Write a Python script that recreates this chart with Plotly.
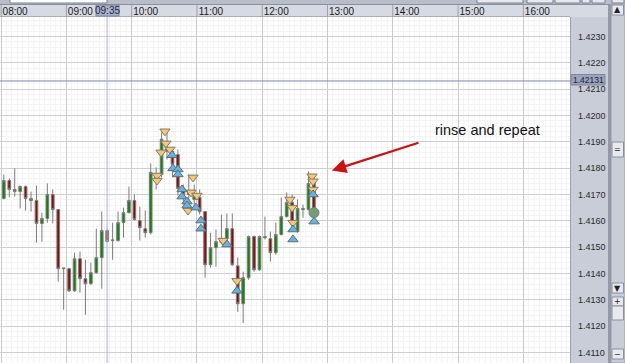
import plotly.graph_objects as go
import pandas as pd

DAY = "2010-01-04 "

# 5-minute candles starting 08:00
opens = [1.41685, 1.41753, 1.41719, 1.41711, 1.41730, 1.41685, 1.41677, 1.41590, 1.41609, 1.41700,
         1.41643, 1.41418, 1.41418, 1.41334, 1.41456, 1.41380, 1.41361, 1.41403, 1.41460, 1.41563,
         1.41525, 1.41525, 1.41593, 1.41631, 1.41677, 1.41601, 1.41570, 1.41555, 1.41750, 1.41776,
         1.41875, 1.41864, 1.41852, 1.41723, 1.41708, 1.41681, 1.41689, 1.41635, 1.41433, 1.41498,
         1.41532, 1.41532, 1.41570, 1.41429, 1.41285, 1.41384, 1.41540, 1.41414, 1.41540, 1.41532,
         1.41479, 1.41548, 1.41616, 1.41670, 1.41559, 1.41647, 1.41643, 1.41750]
highs = [1.41776, 1.41761, 1.41799, 1.41734, 1.41734, 1.41711, 1.41734, 1.41631, 1.41742, 1.41719,
         1.41643, 1.41422, 1.41422, 1.41479, 1.41483, 1.41452, 1.41441, 1.41570, 1.41635, 1.41570,
         1.41593, 1.41635, 1.41650, 1.41730, 1.41700, 1.41654, 1.41639, 1.41818, 1.41803, 1.41936,
         1.41936, 1.41879, 1.41871, 1.41738, 1.41776, 1.41738, 1.41719, 1.41635, 1.41555, 1.41567,
         1.41624, 1.41628, 1.41628, 1.41460, 1.41407, 1.41544, 1.41544, 1.41544, 1.41616, 1.41559,
         1.41593, 1.41689, 1.41708, 1.41700, 1.41681, 1.41662, 1.41788, 1.41772]
lows = [1.41681, 1.41689, 1.41692, 1.41647, 1.41639, 1.41635, 1.41517, 1.41521, 1.41593, 1.41590,
        1.41369, 1.41262, 1.41330, 1.41330, 1.41327, 1.41243, 1.41357, 1.41399, 1.41342, 1.41517,
        1.41452, 1.41521, 1.41536, 1.41628, 1.41601, 1.41525, 1.41536, 1.41548, 1.41719, 1.41765,
        1.41833, 1.41765, 1.41696, 1.41662, 1.41643, 1.41650, 1.41624, 1.41384, 1.41422, 1.41426,
        1.41510, 1.41525, 1.41429, 1.41254, 1.41212, 1.41376, 1.41407, 1.41410, 1.41529, 1.41445,
        1.41471, 1.41544, 1.41612, 1.41574, 1.41555, 1.41612, 1.41639, 1.41631]
closes = [1.41753, 1.41719, 1.41711, 1.41730, 1.41685, 1.41677, 1.41590, 1.41609, 1.41700, 1.41643,
          1.41418, 1.41420, 1.41334, 1.41456, 1.41380, 1.41361, 1.41403, 1.41460, 1.41563, 1.41521,
          1.41527, 1.41593, 1.41631, 1.41677, 1.41605, 1.41574, 1.41555, 1.41784, 1.41776, 1.41910,
          1.41864, 1.41814, 1.41723, 1.41700, 1.41700, 1.41696, 1.41635, 1.41433, 1.41498, 1.41521,
          1.41517, 1.41570, 1.41433, 1.41285, 1.41384, 1.41540, 1.41414, 1.41540, 1.41536, 1.41479,
          1.41548, 1.41616, 1.41670, 1.41586, 1.41647, 1.41643, 1.41742, 1.41635]

# signal markers
sell_times = ["10:30:36", "10:31:30", "10:27:00", "10:35:12", "10:23:18", "10:23:18", "10:56:24",
              "10:54:30", "11:00:00", "10:51:48", "11:24:00", "11:36:48", "12:25:30", "12:27:24",
              "12:28:18", "12:45:48", "12:46:42", "12:46:42"]
sell_prices = [1.41940, 1.41894, 1.41860, 1.41871, 1.41772, 1.41753, 1.41765,
               1.41708, 1.41696, 1.41639, 1.41525, 1.41372, 1.41681, 1.41650,
               1.41593, 1.41769, 1.41750, 1.41719]
buy_times = ["10:37:06", "10:38:00", "10:42:36", "10:42:36", "10:46:18", "10:46:18", "10:50:54",
             "10:50:54", "10:59:06", "11:03:42", "11:03:42", "11:27:36", "11:36:48", "12:28:18",
             "12:28:18", "12:46:42", "12:47:42"]
buy_prices = [1.41849, 1.41799, 1.41795, 1.41776, 1.41719, 1.41692, 1.41673,
              1.41658, 1.41650, 1.41601, 1.41570, 1.41510, 1.41334, 1.41567,
              1.41529, 1.41700, 1.41597]
exit_times = ["12:47:36"]
exit_prices = [1.41631]

current_price = 1.42131
cursor_time = "09:37:30"
cursor_label = "09:35"
note_text = "rinse and repeat"
arrow_tip = ("13:04:06", 1.41791)
arrow_tail = ("14:25:00", 1.41898)

x_range = [DAY + "07:58:59", DAY + "16:42:54"]
y_range = [1.41060, 1.42374]

W, H = 625, 363
ML, MR, MT, MB = 0, 55, 17, 0
PW, PH = W - ML - MR, H - MT - MB


def px_x(p):
    return (p - ML) / PW


def px_y(p):
    return 1 - (p - MT) / PH


times = pd.date_range(DAY + "08:00", periods=len(opens), freq="5min") + pd.Timedelta(seconds=150)

fig = go.Figure()
fig.add_trace(go.Candlestick(
    x=times, open=opens, high=highs, low=lows, close=closes,
    increasing=dict(fillcolor="#0b870b", line=dict(color="#7b7b7b", width=1)),
    decreasing=dict(fillcolor="#8a0b0b", line=dict(color="#7b7b7b", width=1)),
    whiskerwidth=0, showlegend=False, hoverinfo="skip"))

fig.add_trace(go.Scatter(
    x=[DAY + t for t in sell_times], y=sell_prices, mode="markers",
    marker=dict(symbol="triangle-down", size=9, color="#ffc76a",
                line=dict(color="#7a7a7a", width=1)), showlegend=False))
fig.add_trace(go.Scatter(
    x=[DAY + t for t in buy_times], y=buy_prices, mode="markers",
    marker=dict(symbol="triangle-up", size=9, color="#5cb6ea",
                line=dict(color="#6a6a6a", width=1)), showlegend=False))
fig.add_trace(go.Scatter(
    x=[DAY + t for t in exit_times], y=exit_prices, mode="markers",
    marker=dict(symbol="circle", size=10, color="#6f9f72",
                line=dict(color="#7a7a7a", width=1)), showlegend=False))

shapes = []
# current price line
shapes.append(dict(type="line", xref="paper", yref="y", x0=0, x1=1, y0=current_price,
                   y1=current_price, line=dict(color="#7b84aa", width=1), layer="above"))
# cursor line
shapes.append(dict(type="line", xref="x", yref="paper", x0=DAY + cursor_time, x1=DAY + cursor_time,
                   y0=0, y1=1, line=dict(color="#b4bcd6", width=2), opacity=0.6, layer="above"))
# header bar
shapes.append(dict(type="rect", xref="paper", yref="paper", x0=px_x(0), x1=px_x(610),
                   y0=px_y(17), y1=px_y(4), fillcolor="#d6dae3", line=dict(width=0), layer="below"))
shapes.append(dict(type="line", xref="paper", yref="paper", x0=px_x(0), x1=px_x(610),
                   y0=px_y(4.5), y1=px_y(4.5), line=dict(color="#8a90a0", width=1)))
shapes.append(dict(type="line", xref="paper", yref="paper", x0=px_x(0), x1=px_x(570),
                   y0=px_y(16.5), y1=px_y(16.5), line=dict(color="#a8adb9", width=1)))
for hh in range(8, 17):
    t = DAY + "%02d:00" % hh
    shapes.append(dict(type="line", xref="x", yref="paper", x0=t, x1=t, y0=px_y(17), y1=px_y(5),
                       line=dict(color="#9aa0ae", width=1)))
# top strip
shapes.append(dict(type="rect", xref="paper", yref="paper", x0=px_x(0), x1=px_x(625),
                   y0=px_y(4), y1=px_y(0), fillcolor="#b9bdc8", line=dict(width=0), layer="below"))
shapes.append(dict(type="rect", xref="paper", yref="paper", x0=px_x(10), x1=px_x(107),
                   y0=px_y(3), y1=px_y(-2), fillcolor="#ffffff", line=dict(color="#7d8290", width=1)))
for a, b in [(477, 523), (527, 553), (555, 580), (582, 590), (592, 605), (612, 624)]:
    shapes.append(dict(type="rect", xref="paper", yref="paper", x0=px_x(a), x1=px_x(b),
                       y0=px_y(3), y1=px_y(-2), fillcolor="#e6e8ee", line=dict(color="#7d8290", width=1)))
# cursor time label
shapes.append(dict(type="rect", xref="paper", yref="paper", x0=px_x(96), x1=px_x(119),
                   y0=px_y(16), y1=px_y(5), fillcolor="#a9b1c9", line=dict(color="#7d849c", width=1)))
# right axis panel borders and scrollbar
shapes.append(dict(type="line", xref="paper", yref="paper", x0=px_x(570.5), x1=px_x(570.5),
                   y0=0, y1=1, line=dict(color="#9aa0ae", width=1)))
shapes.append(dict(type="rect", xref="paper", yref="paper", x0=px_x(608), x1=px_x(611),
                   y0=0, y1=px_y(4), fillcolor="#9399a7", line=dict(width=0)))
shapes.append(dict(type="rect", xref="paper", yref="paper", x0=px_x(611), x1=px_x(625),
                   y0=0, y1=px_y(4), fillcolor="#c9cdd8", line=dict(color="#9399a7", width=1)))
# price label box
shapes.append(dict(type="rect", xref="paper", yref="paper", x0=px_x(571), x1=px_x(605),
                   y0=px_y(85), y1=px_y(74.5), fillcolor="#9ba3bd", line=dict(color="#7d849c", width=1)))
# scrollbar buttons
for a, b in [(5, 15), (142, 157), (283, 293), (297, 306), (306, 320), (349, 359)]:
    shapes.append(dict(type="rect", xref="paper", yref="paper", x0=px_x(612), x1=px_x(623.5),
                       y0=px_y(b), y1=px_y(a), fillcolor="#e8eaf0", line=dict(color="#8a90a0", width=1)))

annotations = []
annotations.append(dict(xref="paper", yref="paper", x=px_x(107.5), y=px_y(10.5), text=cursor_label,
                        showarrow=False, font=dict(family="Liberation Sans", size=10, color="#1e2a44"),
                        xanchor="center", yanchor="middle"))
annotations.append(dict(xref="paper", yref="paper", x=px_x(588), y=px_y(79.5), text="%.5f" % current_price,
                        showarrow=False, font=dict(family="Liberation Sans", size=8.5, color="#1e2233"),
                        xanchor="center", yanchor="middle", height=9, valign="middle"))
for txt, yy in [("\u25b2", 10), ("=", 149.5), ("\u25bc", 288), ("+", 301.5), ("\u2212", 354)]:
    annotations.append(dict(xref="paper", yref="paper", x=px_x(617.8), y=px_y(yy), text=txt,
                            showarrow=False, font=dict(family="DejaVu Sans", size=8, color="#222"),
                            xanchor="center", yanchor="middle"))
annotations.append(dict(xref="x", yref="y", x=DAY + arrow_tip[0], y=arrow_tip[1],
                        axref="x", ayref="y", ax=DAY + arrow_tail[0], ay=arrow_tail[1],
                        text="", showarrow=True, arrowhead=2, arrowsize=1.3, arrowwidth=2.2,
                        arrowcolor="#cc1111"))
annotations.append(dict(xref="paper", yref="paper", x=px_x(433), y=px_y(130.5), text=note_text,
                        showarrow=False, font=dict(family="Liberation Sans", size=14.5, color="#111"),
                        xanchor="left", yanchor="middle"))

fig.update_layout(
    width=W, height=H, margin=dict(l=ML, r=MR, t=MT, b=MB, pad=0),
    paper_bgcolor="#c9cdd8", plot_bgcolor="#ffffff",
    boxgap=0.3, hovermode=False,
    shapes=shapes, annotations=annotations,
    xaxis=dict(type="date", range=x_range, side="top", tick0=DAY + "08:00", dtick=3600000,
               tickformat="%H:%M", ticks="", showgrid=True, gridcolor="#c9c9c9", gridwidth=1,
               ticklabelshift=14, ticklabelstandoff=-1,
               minor=dict(dtick=300000, showgrid=True, gridcolor="#f4f4f4"),
               rangeslider=dict(visible=False), zeroline=False, showline=False,
               tickfont=dict(family="Liberation Sans", size=10, color="#1a1a1a"), fixedrange=True),
    yaxis=dict(range=y_range, side="right", tick0=1.4110, dtick=0.001, tickformat=".4f",
               ticks="", showgrid=True, gridcolor="#d0d0d0", gridwidth=1, zeroline=False,
               showline=False, ticklabelstandoff=7,
               minor=dict(dtick=0.0002, showgrid=True, gridcolor="#f4f4f4"),
               tickfont=dict(family="Liberation Sans", size=9, color="#2a2a2a"), fixedrange=True),
)

fig.write_html("out.html", config={"displayModeBar": False})
